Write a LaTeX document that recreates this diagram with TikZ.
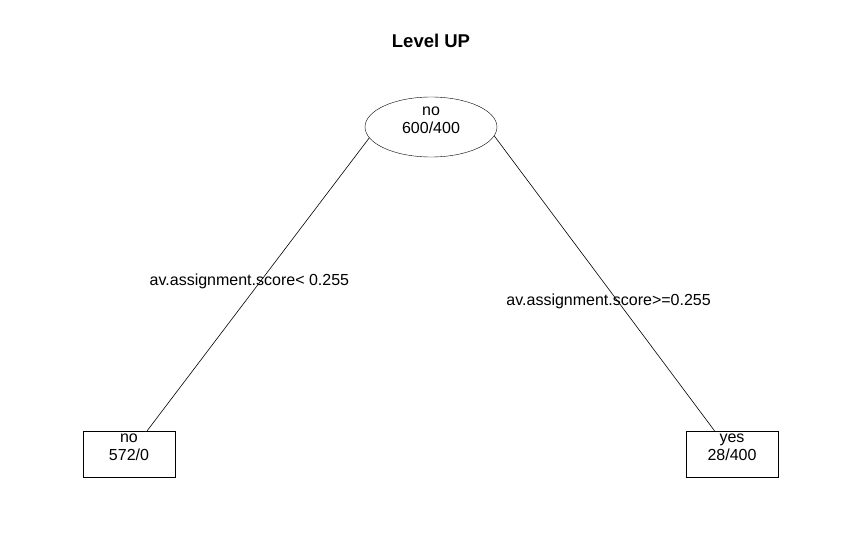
\documentclass[tikz,border=0pt]{standalone}
\usepackage{fontspec}
\setmainfont{Liberation Sans}
\usetikzlibrary{shapes.geometric, positioning}

\begin{document}
\begin{tikzpicture}[
    x=1pt, y=-1pt,
    splitnode/.style={ellipse, draw, minimum width=132pt, minimum height=60pt, inner sep=0pt},
    leafnode/.style={rectangle, draw, minimum width=92pt, minimum height=46pt, inner sep=0pt},
    nodetext/.style={align=center, inner sep=0pt, font=\fontsize{16}{18}\selectfont},
    edgelabel/.style={inner sep=0pt, font=\fontsize{16}{18}\selectfont},
    branch/.style={draw, line width=0.6pt}
]
\useasboundingbox (0,0) rectangle (862,543);

% Title
\node[font=\bfseries\fontsize{18.5}{20}\selectfont] (title) at (431,41) {Level UP};

% Root split
\node[splitnode] (root) at (431,127) {};
\node[nodetext] (roottext) at (431,120) {no\\600/400};

% Leaves
\node[leafnode] (leafno) at (129,454) {};
\node[nodetext] (leafnotext) at (129,447) {no\\572/0};
\node[leafnode] (leafyes) at (732,454) {};
\node[nodetext] (leafyestext) at (732,447) {yes\\28/400};

% Branches
\draw[branch] (root.190) -- (leafno.52)
    node[edgelabel, pos=0.49, xshift=-11pt] (leftlabel) {av.assignment.score< 0.255};
\draw[branch] (root.-8) -- (leafyes.127)
    node[edgelabel, pos=0.56, xshift=-9pt] (rightlabel) {av.assignment.score>=0.255};

\end{tikzpicture}
\end{document}
